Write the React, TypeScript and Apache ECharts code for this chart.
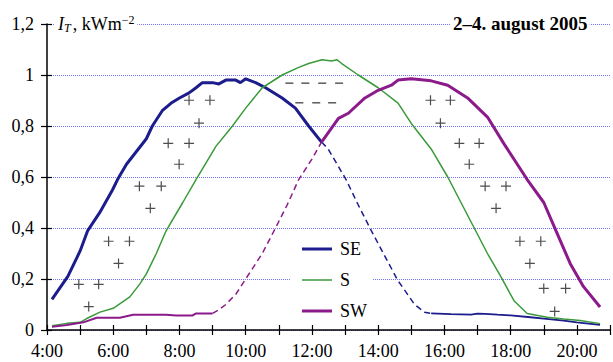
import React, { useEffect, useRef } from "react";
import * as echarts from "echarts";

// time (h), irradiance (kW/m2)
const SE_SOLID_AM = [
  [4.15, 0.12], [4.63, 0.21], [5.0, 0.31], [5.23, 0.39], [5.59, 0.46], [5.98, 0.55],
  [6.13, 0.59], [6.4, 0.65], [6.7, 0.7], [7.0, 0.75], [7.18, 0.8], [7.48, 0.86],
  [7.75, 0.89], [8.0, 0.91], [8.29, 0.93], [8.5, 0.95], [8.69, 0.97], [9.0, 0.97],
  [9.19, 0.965], [9.4, 0.98], [9.7, 0.98], [9.84, 0.97], [10.0, 0.985], [10.3, 0.97],
  [10.6, 0.95], [11.1, 0.91], [11.5, 0.87], [11.9, 0.8], [12.29, 0.737],
];
const SE_DASHED = [
  [12.29, 0.737], [12.49, 0.71], [13.03, 0.59], [13.4, 0.49], [13.79, 0.39], [14.2, 0.29],
  [14.59, 0.195], [15.1, 0.1], [15.4, 0.07], [15.6, 0.065],
];
const SE_SOLID_PM = [
  [15.6, 0.065], [16.2, 0.062], [16.8, 0.06], [17.0, 0.064], [17.23, 0.063], [17.6, 0.06],
  [18.0, 0.057], [18.6, 0.05], [19.0, 0.045], [19.6, 0.037], [20.0, 0.03], [20.7, 0.02],
];
const S_VALUES = [
  [4.15, 0.017], [4.6, 0.026], [5.0, 0.03], [5.2, 0.045], [5.6, 0.07], [6.0, 0.085],
  [6.5, 0.13], [6.8, 0.18], [7.0, 0.22], [7.3, 0.3], [7.6, 0.39], [8.1, 0.5], [8.5, 0.59],
  [9.1, 0.72], [9.6, 0.8], [10.0, 0.87], [10.5, 0.95], [11.1, 1.0], [11.6, 1.03],
  [11.9, 1.045], [12.3, 1.06], [12.6, 1.055], [12.75, 1.06], [12.9, 1.045], [13.4, 1.0],
  [14.0, 0.95], [14.6, 0.89], [15.0, 0.81], [15.6, 0.71], [16.1, 0.6], [16.5, 0.5],
  [16.9, 0.4], [17.3, 0.3], [17.7, 0.21], [18.1, 0.115], [18.5, 0.065], [19.1, 0.05],
  [19.6, 0.043], [20.1, 0.037], [20.7, 0.025],
];
const SW_SOLID_AM = [
  [4.15, 0.013], [4.6, 0.02], [5.1, 0.03], [5.5, 0.048], [6.2, 0.048], [6.6, 0.06],
  [7.6, 0.06], [7.9, 0.057], [8.4, 0.057], [8.5, 0.065], [9.0, 0.065],
];
const SW_DASHED = [
  [9.0, 0.065], [9.2, 0.08], [9.4, 0.1], [9.7, 0.14], [10.0, 0.2], [10.5, 0.3],
  [10.9, 0.4], [11.25, 0.49], [11.6, 0.59], [12.0, 0.67], [12.29, 0.737],
];
const SW_SOLID_PM = [
  [12.29, 0.737], [12.8, 0.83], [13.1, 0.85], [13.6, 0.91], [14.0, 0.94], [14.4, 0.96],
  [14.6, 0.98], [15.0, 0.985], [15.6, 0.977], [16.1, 0.96], [16.7, 0.91], [17.3, 0.835],
  [17.8, 0.73], [18.5, 0.59], [19.0, 0.5], [19.4, 0.38], [19.8, 0.26], [20.2, 0.17],
  [20.7, 0.09],
];
const PLUS_MARKS = [
  [4.96, 0.179], [5.56, 0.179], [5.26, 0.092],
  [5.86, 0.348], [6.49, 0.348], [6.16, 0.261],
  [6.79, 0.564], [7.45, 0.564], [7.12, 0.477],
  [7.66, 0.732], [8.29, 0.732], [7.99, 0.65],
  [8.29, 0.901], [8.92, 0.901], [8.59, 0.811],
  [15.58, 0.901], [16.18, 0.901], [15.88, 0.811],
  [16.45, 0.732], [17.05, 0.732], [16.75, 0.65],
  [17.23, 0.564], [17.86, 0.564], [17.56, 0.477],
  [18.28, 0.348], [18.91, 0.348], [18.58, 0.261],
  [19.0, 0.163], [19.66, 0.163], [19.33, 0.073],
];
const DASH_MARKS = [
  [11.32, 0.968], [11.8, 0.968], [12.31, 0.968], [12.82, 0.968],
  [11.62, 0.891], [12.13, 0.891], [12.61, 0.891],
];
const LEGEND_NAMES = ["SE", "S", "SW"];
const TITLE_TEXT = "2–4. august 2005";
const X_MIN = 4;
const X_MAX = 21;
const Y_MIN = 0;
const Y_MAX = 1.2;

const SERIF = "Liberation Serif";
const C_SE = "#1c1c8c";
const C_S = "#3a9a3a";
const C_SW = "#8b1a8b";
const C_GRID = "#7373ff";

export default function App() {
  const ref = useRef<HTMLDivElement>(null);
  useEffect(() => {
    if (!ref.current) return;
    const chart = echarts.init(ref.current, null, { renderer: "svg" });
    const line = (name: string, data: number[][], color: string, width: number, dashed = false) => ({
      name,
      type: "line",
      data,
      symbol: "none",
      showSymbol: false,
      color,
      lineStyle: { color, width, type: dashed ? [6, 4] : "solid" },
      z: dashed ? 2 : 3,
    });
    const legendWidths: Record<string, number> = { SE: 3, S: 1.5, SW: 3 };
    chart.setOption({
      animation: false,
      backgroundColor: "#fff",
      textStyle: { fontFamily: SERIF },
      grid: { left: 47, right: 0, top: 24, bottom: 32 },
      xAxis: [
        {
          type: "value", min: X_MIN, max: X_MAX, interval: 1,
          axisLine: { lineStyle: { color: "#000", width: 1.5 } },
          axisTick: { length: 5, lineStyle: { color: "#000", width: 1.2 } },
          axisLabel: {
            margin: 12, color: "#000", fontFamily: SERIF, fontSize: 18,
            formatter: (v: number) => (v % 2 === 0 && v < X_MAX ? `${v}:00` : ""),
          },
          splitLine: { show: false },
        },
        {
          type: "value", min: X_MIN, max: X_MAX, interval: 1, position: "bottom",
          axisLine: { show: false },
          axisTick: { inside: true, length: 5, lineStyle: { color: "#000", width: 1.2 } },
          axisLabel: { show: false },
          splitLine: { show: false },
        },
      ],
      yAxis: [
        {
          type: "value", min: Y_MIN, max: Y_MAX, interval: 0.2,
          axisLine: { show: true, lineStyle: { color: "#000", width: 1.5 } },
          axisTick: { show: true, length: 6, lineStyle: { color: "#000", width: 1.2 } },
          axisLabel: {
            margin: 13, color: "#000", fontFamily: SERIF, fontSize: 18,
            formatter: (v: number) => String(+v.toFixed(1)).replace(".", ","),
          },
          splitLine: { show: true, lineStyle: { color: C_GRID, type: "dotted", width: 1 } },
        },
        {
          type: "value", min: Y_MIN, max: Y_MAX, interval: 0.2, position: "left",
          axisLine: { show: false },
          axisTick: { show: true, inside: true, length: 5, lineStyle: { color: "#000", width: 1.2 } },
          axisLabel: { show: false },
          splitLine: { show: false },
        },
      ],
      legend: {
        data: LEGEND_NAMES.map((n) => ({
          name: n,
          icon: `path://M0,0H30V${legendWidths[n]}H0Z`,
        })),
        symbolKeepAspect: true,
        orient: "vertical",
        left: 290,
        top: 238,
        padding: [2, 5, 2, 12],
        backgroundColor: "#fff",
        itemWidth: 30,
        itemHeight: 18,
        itemGap: 13,
        textStyle: { fontFamily: SERIF, fontSize: 18, color: "#000", padding: [0, 0, 0, 3] },
        z: 10,
      },
      graphic: [
        {
          type: "text",
          left: 54,
          top: 14,
          z: 100,
          style: {
            text: "{i|I}{s|T}{n|, kWm}{p|−2}",
            backgroundColor: "#fff",
            padding: [0, 3, 0, 4],
            rich: {
              i: { fontFamily: SERIF, fontSize: 18, fontStyle: "italic", lineHeight: 20, fill: "#000" },
              s: { fontFamily: SERIF, fontSize: 12, fontStyle: "italic", lineHeight: 12, verticalAlign: "bottom", fill: "#000", padding: [0, 2, 0, 0] },
              n: { fontFamily: SERIF, fontSize: 18, lineHeight: 20, fill: "#000" },
              p: { fontFamily: SERIF, fontSize: 12, lineHeight: 12, verticalAlign: "top", fill: "#000" },
            },
          },
        },
        {
          type: "text",
          left: 451,
          top: 13,
          z: 100,
          style: {
            text: TITLE_TEXT,
            fontFamily: SERIF,
            fontSize: 19,
            fontWeight: "bold",
            fill: "#000",
            backgroundColor: "#fff",
            padding: [1, 2, 1, 2],
          },
        },
      ],
      series: [
        line("SE", SE_SOLID_AM, C_SE, 3),
        line("SE_d", SE_DASHED, C_SE, 1.5, true),
        line("SE_pm", SE_SOLID_PM, C_SE, 1.8),
        line("S", S_VALUES, C_S, 1.5),
        line("SW_am", SW_SOLID_AM, C_SW, 2),
        line("SW_d", SW_DASHED, C_SW, 1.5, true),
        line("SW", SW_SOLID_PM, C_SW, 3),
        {
          name: "plus",
          type: "scatter",
          data: PLUS_MARKS,
          symbol: "path://M4,0h1.1v4h4v1.1h-4v4h-1.1v-4h-4v-1.1h4z",
          symbolSize: 10,
          itemStyle: { color: "#222" },
          z: 5,
        },
        {
          name: "dash",
          type: "scatter",
          data: DASH_MARKS,
          symbol: "rect",
          symbolSize: [8, 1.4],
          itemStyle: { color: "#222" },
          z: 5,
        },
      ],
    });
    return () => chart.dispose();
  }, []);
  return (
    <div
      ref={ref}
      style={{ position: "fixed", left: 0, top: 0, width: 613, height: 362, background: "#fff" }}
    />
  );
}
